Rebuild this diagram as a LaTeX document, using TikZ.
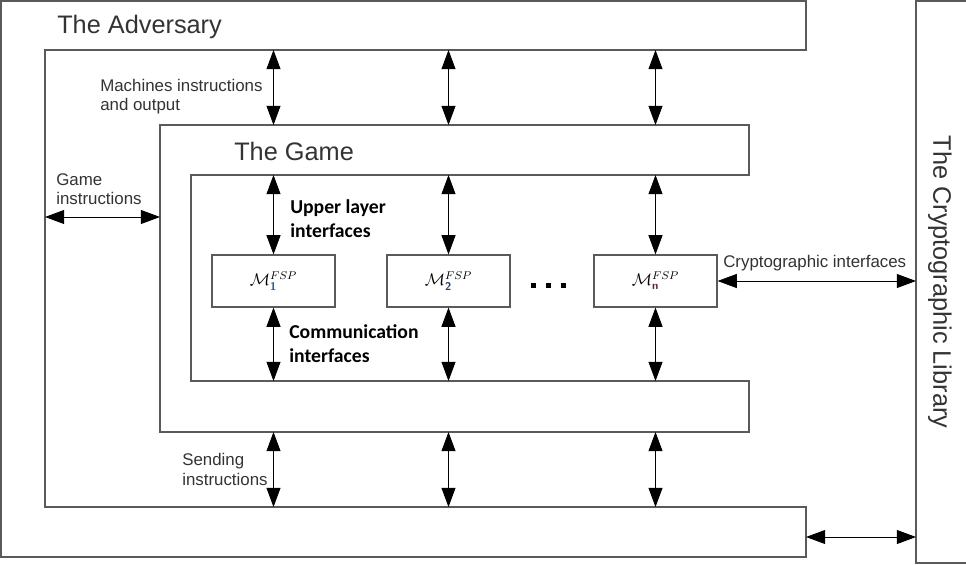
\documentclass[tikz,border=0pt]{standalone}
\usepackage{amsmath}
\usepackage{fontspec}
\setmainfont{Liberation Sans}
\newfontfamily\boldlabel{Carlito}
\usetikzlibrary{arrows.meta}
\definecolor{edge}{HTML}{5A5A5A}
\definecolor{ink}{HTML}{333333}
\definecolor{subone}{HTML}{2F5E9E}
\definecolor{subtwo}{HTML}{1F3A70}
\definecolor{subn}{HTML}{6A1F35}
\def\Sub#1#2{\textcolor{#1}{\textsf{\textbf{#2}}}}
\def\Mach#1{$\mathcal{M}_{#1}^{FSP}$}
\tikzset{
  frame/.style={draw=edge,line width=0.8pt},
  link/.style={{Triangle[length=4.8mm,width=3.5mm]}-{Triangle[length=4.8mm,width=3.5mm]},line width=0.6pt},
  title/.style={text=ink,font=\fontsize{18}{21}\selectfont,anchor=west,inner sep=0pt},
  lbl/.style={text=ink,font=\fontsize{12}{13.6}\selectfont,align=left,anchor=west,inner sep=0pt},
  blbl/.style={font=\boldlabel\bfseries\fontsize{14}{17}\selectfont,align=left,anchor=west,inner sep=0pt},
  machine/.style={draw=edge,line width=0.8pt,minimum width=3.075cm,minimum height=1.3cm,font=\large}
}
\begin{document}
\begin{tikzpicture}[x=0.025cm,y=-0.025cm]
\useasboundingbox (0,0) rectangle (966,565);
% adversary and game frames
\draw[frame] (1,1) -- (806,1) -- (806,50) -- (45,50) -- (45,507) -- (806,507) -- (806,557) -- (1,557) -- cycle;
\draw[frame] (160,125) -- (749,125) -- (749,175) -- (191,175) -- (191,381) -- (749,381) -- (749,432) -- (160,432) -- cycle;
\draw[frame] (970,1) -- (916,1) -- (916,563) -- (970,563);
\node[title] (adv) at (57,27) {The Adversary};
\node[title] (game) at (234,151) {The Game};
\node[title,rotate=-90,anchor=center] (lib) at (940,282) {The Cryptographic Library};
% edges used by the connectors
\coordinate (advtop) at (0,50);
\coordinate (gametop) at (0,125);
\coordinate (gamein) at (0,175);
\coordinate (gameinbot) at (0,381);
\coordinate (gamebot) at (0,432);
\coordinate (advbot) at (0,507);
\coordinate (libedge) at (916,0);
% machines
\node[machine] (m1) at (273.5,281) {\Mach{\Sub{subone}{1}}};
\node[machine] (m2) at (448.5,281) {\Mach{\Sub{subtwo}{2}}};
\node[machine] (mn) at (655.5,281) {\Mach{\Sub{subn}{n}}};
\foreach \x in {533,548,563} \fill (\x-2.5,282.5) rectangle +(5,5);
\foreach \m in {m1,m2,mn} {
  \draw[link] (\m.north |- advtop) -- (\m.north |- gametop);
  \draw[link] (\m.north |- gamein) -- (\m.north);
  \draw[link] (\m.south) -- (\m.south |- gameinbot);
  \draw[link] (\m.south |- gamebot) -- (\m.south |- advbot);
}
\coordinate (gi1) at (45,217);
\coordinate (gi2) at (160,217);
\draw[link] (gi1) -- (gi2);
\draw[link] (mn.east) -- (mn.east -| libedge);
\coordinate (lb1) at (806,537);
\draw[link] (lb1) -- (lb1 -| libedge);
% labels
\node[lbl] (machlbl) at (100,96.5) {Machines instructions\\and output};
\node[lbl] (gamelbl) at (56,189.5) {Game\\instructions};
\node[lbl] (sendlbl) at (182,469.5) {Sending\\instructions};
\node[lbl] (cryptlbl) at (723,263) {Cryptographic interfaces};
\node[blbl] (upperlbl) at (290,219) {Upper layer\\interfaces};
\node[blbl] (commlbl) at (289,343.5) {Communication\\interfaces};
\end{tikzpicture}
\end{document}
